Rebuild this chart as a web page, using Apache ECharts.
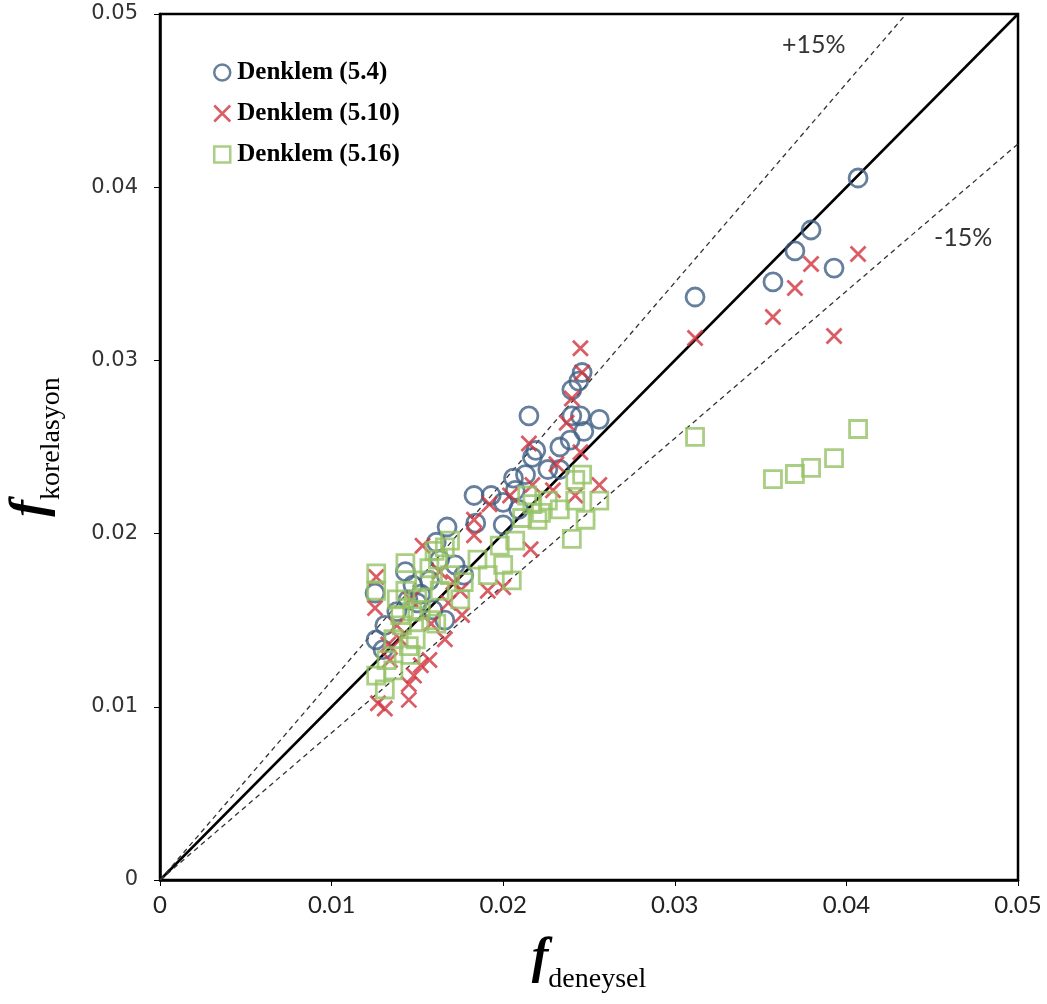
<!DOCTYPE html>
<html><head><meta charset="utf-8">
<script src="https://cdn.jsdelivr.net/npm/echarts@6/dist/echarts.min.js"></script>
<style>html,body{margin:0;padding:0;background:#fff}#c{width:1047px;height:1004px}</style>
</head><body><div id="c"></div>
<script>
// Denklem (5.4) - circles
const eq54X = [0.04068,0.03794,0.03700,0.03572,0.03928,0.03118,
  0.01253,0.01259,0.0131,0.0138,0.01445,0.01474,0.0152,0.0157,0.01673,0.0163,0.0172,0.0177,
  0.0183,0.0193,0.0184,0.0200,0.0200,0.0206,0.0207,0.0209,0.0215,0.0217,0.0219,0.0226,
  0.0233,0.0239,0.0240,0.0245,0.0240,0.0244,0.0246,0.0256,0.0247,0.0213,0.0233,0.0159,0.0166,0.0130,
  0.0143,0.0150,0.0161];
const eq54Y = [0.04053,0.03753,0.03632,0.03453,0.03533,0.03366,
  0.01657,0.01386,0.0147,0.0155,0.01617,0.01703,0.0165,0.0173,0.02038,0.0185,0.0182,0.0176,
  0.0222,0.0222,0.0206,0.0205,0.0218,0.0232,0.0225,0.0214,0.0268,0.0244,0.0248,0.0237,
  0.0250,0.0254,0.0268,0.0268,0.0283,0.0288,0.0293,0.0266,0.0259,0.0234,0.0237,0.0156,0.0150,0.0133,
  0.0178,0.0160,0.0195];
// Denklem (5.10) - crosses
const eq510X = [0.03118,0.04068,0.03794,0.03700,0.03572,0.03928,
  0.01253,0.0127,0.0131,0.0145,0.0145,0.0152,0.0157,0.0183,0.0183,0.0192,0.0200,0.0191,
  0.0215,0.0216,0.0237,0.0240,0.0245,0.0246,0.0256,0.0231,0.0245,0.0217,0.0204,0.0242,
  0.0175,0.0176,0.0166,0.0140,0.0134,0.0153,0.0163,0.0146,0.0229,0.0126,0.0158,0.0168,
  0.0138,0.0148,0.0171,0.0133];
const eq510Y = [0.03129,0.03614,0.03557,0.03418,0.03251,0.03141,
  0.0157,0.0102,0.0099,0.0113,0.0104,0.0124,0.0127,0.0208,0.0199,0.0217,0.0169,0.0167,
  0.0252,0.0191,0.0264,0.0278,0.0307,0.0293,0.0228,0.0240,0.0247,0.0228,0.0222,0.0222,
  0.0167,0.0153,0.0139,0.0139,0.0127,0.0193,0.0178,0.0162,0.0225,0.0175,0.0148,0.0160,
  0.0147,0.0118,0.0172,0.0136];
// Denklem (5.16) - squares
const eq516X = [0.03118,0.04068,0.03928,0.03794,0.03700,0.03572,
  0.0126,0.0126,0.0126,0.0131,0.0136,0.0143,0.0143,0.0141,0.0149,0.0146,0.0152,0.0154,
  0.0162,0.0166,0.0169,0.0158,0.0175,0.0185,0.0198,0.0200,0.0205,0.0207,0.0211,0.0217,
  0.0220,0.0226,0.0233,0.0242,0.0242,0.0240,0.0248,0.0256,0.0246,0.0138,0.0136,0.0169,
  0.0177,0.0191,0.0163,0.0147,0.0160,0.0214,0.0222,0.0140,0.0150,0.0157,0.0145,0.0132,0.0161];
const eq516Y = [0.02558,0.02604,0.02436,0.02379,0.02344,0.02315,
  0.0177,0.0167,0.0118,0.0110,0.0121,0.0183,0.0167,0.0147,0.0139,0.0130,0.0156,0.0173,
  0.0185,0.0192,0.0196,0.0150,0.0162,0.0185,0.0193,0.0182,0.0173,0.0196,0.0209,0.0217,
  0.0208,0.0219,0.0214,0.0231,0.0219,0.0197,0.0208,0.0219,0.0234,0.0162,0.0139,0.0176,
  0.0172,0.0176,0.0167,0.0155,0.0190,0.0222,0.0212,0.0153,0.0162,0.0180,0.0135,0.0127,0.0148];
// reference lines (endpoints)
const lineEqual = [[0,0],[0.05,0.05]];
const linePlus15 = [[0,0],[0.04348,0.05]];
const lineMinus15 = [[0,0],[0.05,0.0425]];
const tickLabels = ['0','0.01','0.02','0.03','0.04','0.05'];
const legendNames = ['Denklem (5.4)','Denklem (5.10)','Denklem (5.16)'];

const zip = (xs, ys) => xs.map((x, i) => [x, ys[i]]);
const crossPath = 'path://M0,0L10,10M10,0L0,10';
const squarePath = 'path://M0,0L10,0L10,10L0,10Z';
const cBlue = '#3e5f84', cRed = '#d1343f', cGreen = '#95c265';
const nameRich = {
  f: {fontFamily: 'Liberation Serif', fontStyle: 'italic', fontWeight: 'bold', fontSize: 50, color: '#000', verticalAlign: 'bottom'},
  s: {fontFamily: 'Liberation Serif', fontSize: 28, color: '#000', verticalAlign: 'bottom', padding: [0,0,-10,0]}
};

const chart = echarts.init(document.getElementById('c'), null, {renderer: 'canvas'});
chart.setOption({
  animation: false,
  backgroundColor: '#fff',
  grid: {left: 160, right: 29, top: 14, bottom: 124, show: true, borderColor: '#000', borderWidth: 2.5,
    containLabel: false, outerBoundsMode: 'none'},
  legend: {
    orient: 'vertical', left: 208, top: 55, itemGap: 16, itemWidth: 16, itemHeight: 16,
    textStyle: {fontFamily: 'Liberation Serif', fontWeight: 'bold', fontSize: 25, color: '#000', padding: [0,0,0,2]},
    data: [
      {name: legendNames[0], icon: 'circle', itemStyle: {color: 'transparent', borderColor: cBlue, borderWidth: 2.5}},
      {name: legendNames[1], icon: crossPath, itemStyle: {color: 'transparent', borderColor: cRed, borderWidth: 2.5}},
      {name: legendNames[2], icon: squarePath, itemStyle: {color: 'transparent', borderColor: cGreen, borderWidth: 2.5}}
    ]
  },
  xAxis: {
    type: 'value', min: 0, max: 0.05, interval: 0.01,
    axisLine: {show: true, lineStyle: {color: '#000', width: 2.5}},
    axisTick: {show: true, length: 6, lineStyle: {color: '#000', width: 1}},
    splitLine: {show: false},
    axisLabel: {fontFamily: 'Lato', fontSize: 24, color: '#222', margin: 13,
      formatter: (v) => tickLabels[Math.round(v / 0.01)]},
    name: '{f|f}{s|deneysel}', nameLocation: 'middle', nameGap: 54,
    nameTextStyle: {rich: nameRich}
  },
  yAxis: {
    type: 'value', min: 0, max: 0.05, interval: 0.01,
    axisLine: {show: true, lineStyle: {color: '#000', width: 2.5}},
    axisTick: {show: true, length: 6, lineStyle: {color: '#000', width: 1}},
    splitLine: {show: false},
    axisLabel: {fontFamily: 'DejaVu Sans', fontSize: 21, color: '#333', margin: 22,
      formatter: (v) => tickLabels[Math.round(v / 0.01)]},
    name: '{f|f}{s|korelasyon}', nameLocation: 'middle', nameGap: 104, nameRotate: 90,
    nameTextStyle: {rich: nameRich}
  },
  graphic: [
    {type: 'text', left: 782, top: 32, style: {text: '+15%', fontFamily: 'Lato', fontSize: 25, fill: '#333'}},
    {type: 'text', left: 934, top: 225, style: {text: '-15%', fontFamily: 'Lato', fontSize: 25, fill: '#333'}}
  ],
  series: [
    {type: 'line', data: lineEqual, symbol: 'none', silent: true, lineStyle: {color: '#000', width: 2.5}, z: 1},
    {type: 'line', data: linePlus15, symbol: 'none', silent: true, lineStyle: {color: '#333', width: 1.3, type: [5, 4]}, z: 1},
    {type: 'line', data: lineMinus15, symbol: 'none', silent: true, lineStyle: {color: '#333', width: 1.3, type: [5, 4]}, z: 1},
    {name: legendNames[0], type: 'scatter', data: zip(eq54X, eq54Y), symbol: 'circle', symbolSize: 18,
      itemStyle: {color: 'transparent', borderColor: cBlue, borderWidth: 2.8}, z: 3},
    {name: legendNames[1], type: 'scatter', data: zip(eq510X, eq510Y), symbol: crossPath, symbolSize: 15,
      itemStyle: {color: 'transparent', borderColor: cRed, borderWidth: 2.8}, z: 4},
    {name: legendNames[2], type: 'scatter', data: zip(eq516X, eq516Y), symbol: squarePath, symbolSize: 17,
      itemStyle: {color: 'transparent', borderColor: cGreen, borderWidth: 2.8}, z: 5}
  ]
});
</script></body></html>
